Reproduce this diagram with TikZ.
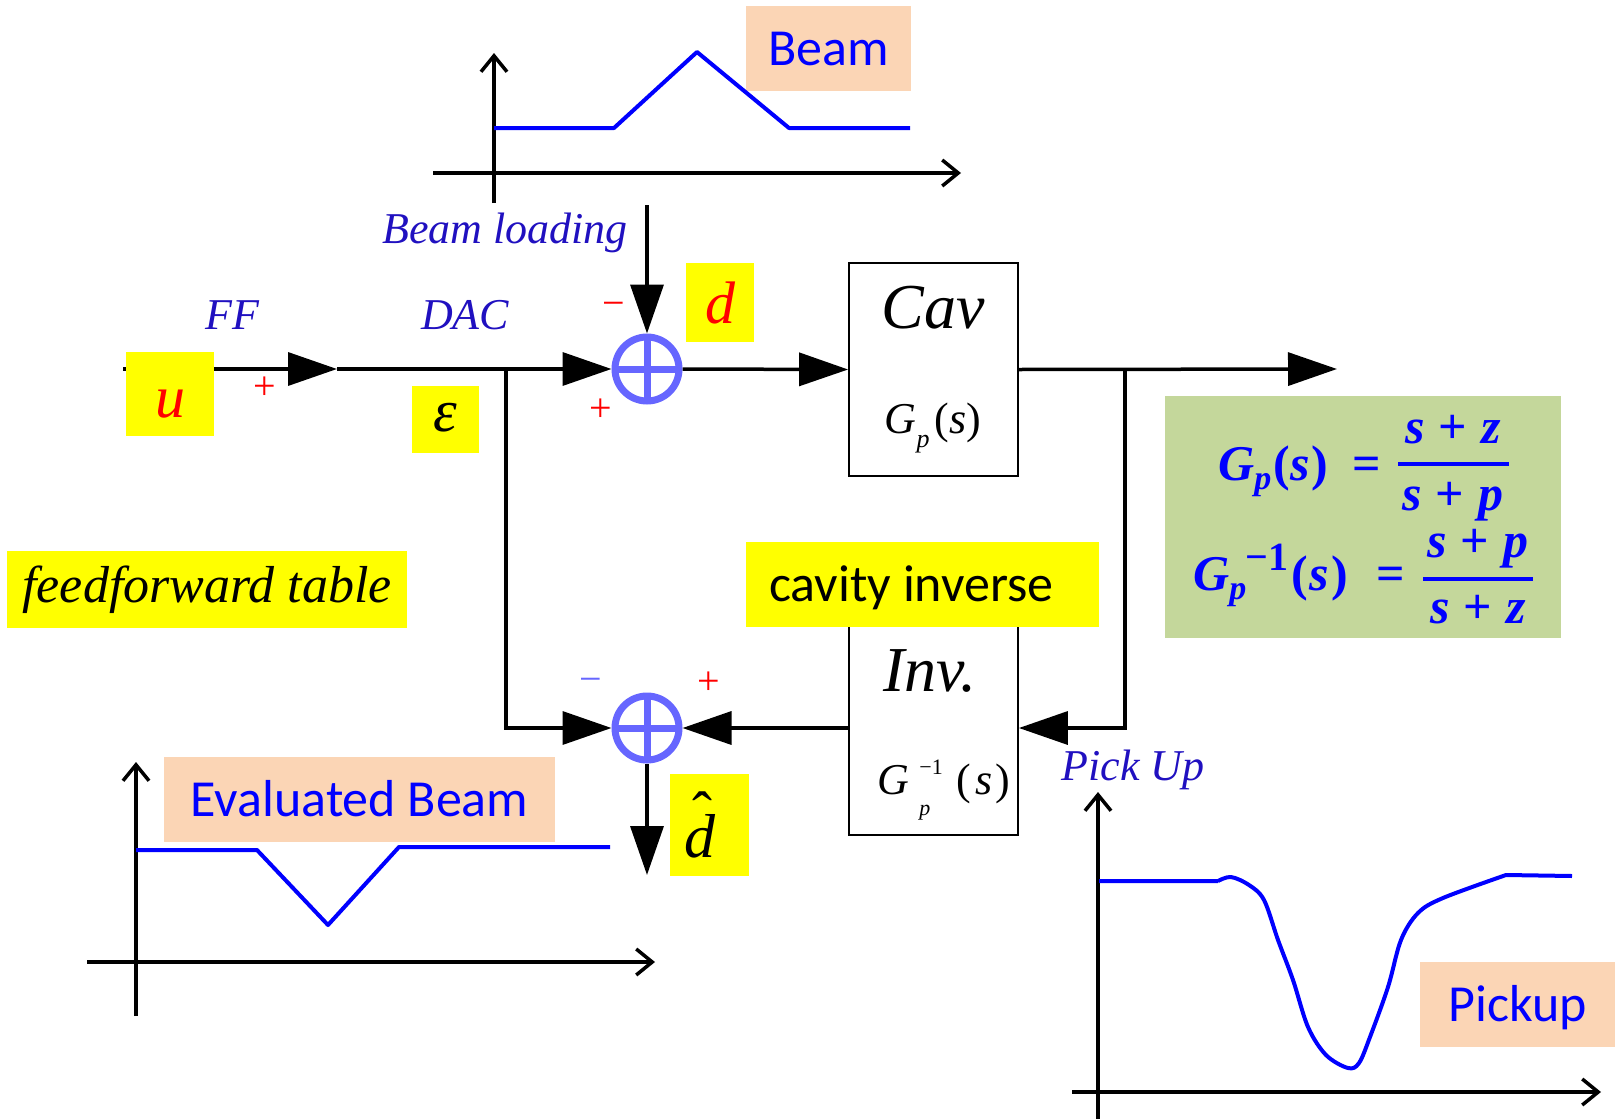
\documentclass[tikz,border=0pt]{standalone}
\usepackage{fontspec}
\setmainfont{Liberation Serif}
\newfontfamily\calibri{Carlito}
\usetikzlibrary{arrows.meta}
\definecolor{ylw}{RGB}{255,255,0}
\definecolor{peach}{RGB}{251,213,181}
\definecolor{olivebg}{RGB}{196,215,155}
\definecolor{sumblue}{RGB}{102,102,255}
\definecolor{labblue}{RGB}{32,16,192}
\definecolor{pureblue}{RGB}{0,0,255}
\definecolor{redc}{RGB}{255,0,0}
\newcommand\fs[1]{\fontsize{#1}{#1}\selectfont}
\tikzset{
 conn/.style={line width=3.5pt},
 tri/.style={conn,-{Triangle[length=49pt,width=33pt]}},
 axisln/.style={line width=3.5pt,-{Straight Barb[length=16pt,width=26pt]}},
 bcurve/.style={line width=4pt,draw=pureblue,line join=round},
 blk/.style={draw,line width=1.8pt,inner sep=0pt,minimum width=169pt},
 sumnode/.style={circle,draw=sumblue,line width=7pt,inner sep=0pt,minimum size=64pt,
   path picture={\draw[sumblue,line width=7pt] (path picture bounding box.north)--(path picture bounding box.south) (path picture bounding box.west)--(path picture bounding box.east);}},
 ybox/.style={fill=ylw,inner sep=0pt},
 pbox/.style={fill=peach,inner sep=0pt,font=\calibri\fs{52},text=pureblue,text height=33pt,text depth=0pt},
 lab/.style={font=\itshape\fs{44},text=labblue},
 sgn/.style={font=\fs{40},inner sep=0pt},
 bigit/.style={font=\itshape\fs{64}},
 fml/.style={font=\bfseries\fs{50},text=pureblue,inner sep=0pt},
 fbar/.style={draw=pureblue,line width=3.5pt},
}
\begin{document}
\begin{tikzpicture}[x=1pt,y=-1pt]
\useasboundingbox (0,0) rectangle (1615,1119);

% ---- Beam graph (top)
\node[pbox,minimum width=165pt,minimum height=85pt] (beambox) at (828.5,48.5) {Beam};
\draw[axisln] (494,203) -- (494,53);
\draw[axisln] (433,173) -- (961,173);
\draw[bcurve] (494,128) -- (614,128) -- (697,52) -- (789,128) -- (910,128);

% ---- Evaluated beam graph
\node[pbox,minimum width=391pt,minimum height=85pt] (evbox) at (359.5,799.5) {Evaluated Beam};
\draw[axisln] (136,1016) -- (136,762);
\draw[axisln] (87,962) -- (655,962);
\draw[bcurve] (136,850) -- (257,850) -- (328,925) -- (399,847) -- (610,847);

% ---- Pickup graph
\draw[axisln] (1098,1119) -- (1098,792);
\draw[axisln] (1072,1092) -- (1601,1092);
\node[pbox,minimum width=195pt,minimum height=85pt] (pubox) at (1517.5,1004.5) {Pickup};
\draw[bcurve] (1099,881) -- (1218,881)
  plot[smooth,tension=0.55] coordinates {(1218,881) (1231,877) (1249,885) (1264,900) (1278,940) (1293,980) (1308,1027) (1326,1055) (1348,1068) (1359,1063) (1370,1037) (1388,987) (1401,940) (1418,913) (1443,898) (1506,875)}
  -- (1572,876);
\node[lab] (pulab) at (1133,770) {Pick Up};

% ---- blocks
\node[blk,minimum height=213pt] (cav) at (933.5,369.5) {};
\node[blk,minimum height=214pt] (inv) at (933.5,728) {};
\node[sumnode] (s1) at (647,369) {};
\node[sumnode] (s2) at (647,728) {};

\coordinate (in) at (123,369);
\coordinate (ff) at (337,369);
\coordinate (br1) at (506,369);
\coordinate (br2) at (506,728);
\coordinate (bl) at (647,205);
\coordinate (out) at (1337,369);
\coordinate (fb1) at (1125,369);
\coordinate (fb2) at (1125,728);
\coordinate (dh) at (647,875);

\draw[tri] (in) -- (ff);
\draw[tri] (ff) -- (s1.west);
\draw[tri] (bl) -- (s1.north);
\draw[tri] (s1.east) -- (cav.west);
\draw[tri] (cav.east) -- (out);
\draw[tri] (fb1) -- (fb2) -- (inv.east);
\draw[tri] (inv.west) -- (s2.east);
\draw[tri] (br1) -- (br2) -- (s2.west);
\draw[tri] (s2.south) -- (dh);

% ---- block texts
\node[bigit] (cavt) at (933,308) {Cav};
\node[font=\fs{44}] (cavg) at (933,428) {\textit{G}\raisebox{-14pt}{\fs{26}\textit{p}}\hspace{5pt}(\textit{s})};
\node[bigit] (invt) at (930,671) {Inv.};
\node[font=\fs{44}] (invg) at (944,790) {\textit{G}\hspace{10pt}\rlap{\raisebox{-21pt}{\fs{22}\textit{p}}}\raisebox{20pt}{\fs{22}−1}\hspace{14pt}(\hspace{4pt}\textit{s}\hspace{3pt})};

% ---- labels
\node[lab] (fflab) at (232,315) {FF};
\node[lab] (daclab) at (465,315) {DAC};
\node[lab] (bllab) at (505,233) {Beam loading};

\node[ybox,minimum width=88pt,minimum height=84pt,font=\itshape\fs{60},text=redc,text height=46pt,text depth=0pt] (ubox) at (170,394) {u};
\node[ybox,minimum width=67pt,minimum height=67pt,font=\itshape\fs{60},text height=23pt,text depth=0pt] (ebox) at (445.5,419.5) {ε};
\node[ybox,minimum width=68pt,minimum height=79pt,font=\itshape\fs{60},text=redc,text height=41pt,text depth=0pt] (dbox) at (720,302.5) {d};
\node[ybox,minimum width=79pt,minimum height=102pt,font=\itshape\fs{62},text height=64pt,text depth=0pt] (dhbox) at (709.5,825) {d\llap{\raisebox{24pt}{\upshape\fs{60}ˆ}\hspace{3pt}}\rule{19pt}{0pt}};

\node[ybox,minimum width=400pt,minimum height=77pt,font=\itshape\fs{52},text height=34pt,text depth=9pt] (fftab) at (207,589.5) {feedforward table};
\node[ybox,minimum width=353pt,minimum height=85pt,font=\calibri\fs{52},text height=33pt,text depth=0pt] (cinv) at (922.5,584.5) {cavity inverse\rule{22pt}{0pt}};

% ---- signs
\node[sgn,text=redc] (sg1) at (265,388) {+};
\node[sgn,text=redc] (sg2) at (614,309) {−};
\node[sgn,text=redc] (sg3) at (601,410) {+};
\node[sgn,text=sumblue] (sg4) at (591,685) {−};
\node[sgn,text=redc] (sg5) at (709,683) {+};

% ---- formula box
\node[fill=olivebg,minimum width=396pt,minimum height=242pt,inner sep=0pt] (gbox) at (1363,517) {};
\node[fml,anchor=base west] (f1l) at (1218,480) {\textit{G}\raisebox{-9pt}{\fs{34}\textit{p}}\hspace{2pt}(\hspace{1pt}\textit{s}\hspace{1pt})};
\node[fml,anchor=base] (f1e) at (1367,480) {=};
\node[fml,anchor=base] (f1n) at (1453,443) {\textit{s}\hspace{14pt}+\hspace{14pt}\textit{z}};
\node[fml,anchor=base] (f1d) at (1453,510) {\textit{s}\hspace{14pt}+\hspace{14pt}\textit{p}};
\draw[fbar] (1398,464) -- (1509,464);
\node[fml,anchor=base west] (f2l) at (1193,590) {\textit{G}\rlap{\raisebox{-9pt}{\fs{34}\textit{p}}}\hspace{16pt}\raisebox{20pt}{\fs{40}−1}\hspace{3pt}(\hspace{2pt}\textit{s}\hspace{2pt})};
\node[fml,anchor=base] (f2e) at (1391,590) {=};
\node[fml,anchor=base] (f2n) at (1478,557) {\textit{s}\hspace{14pt}+\hspace{14pt}\textit{p}};
\node[fml,anchor=base] (f2d) at (1478,623) {\textit{s}\hspace{14pt}+\hspace{14pt}\textit{z}};
\draw[fbar] (1423,579) -- (1533,579);
\end{tikzpicture}
\end{document}
